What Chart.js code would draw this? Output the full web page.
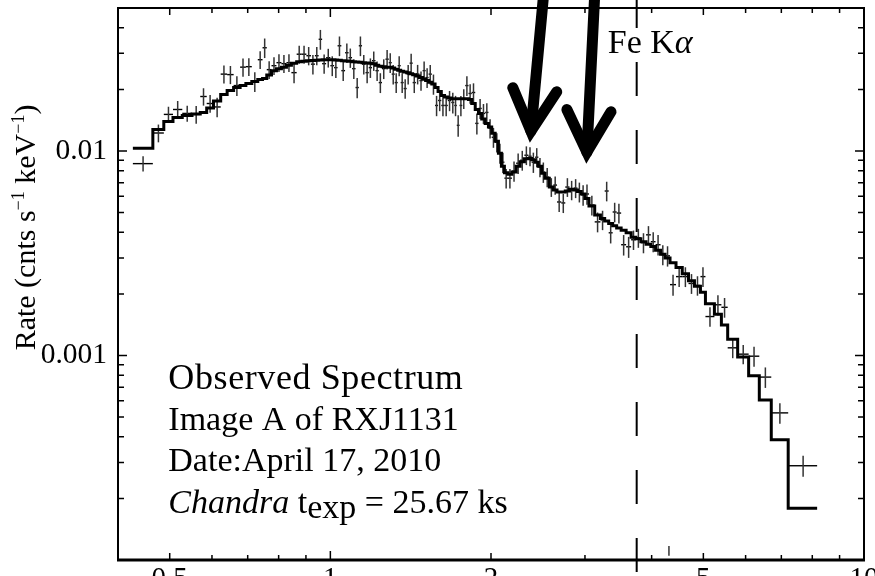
<!DOCTYPE html>
<html>
<head>
<meta charset="utf-8">
<script src="https://cdn.jsdelivr.net/npm/chart.js@4.4.1/dist/chart.umd.min.js"></script>
<style>
  html, body { margin: 0; padding: 0; background: #fff; overflow: hidden; }
  #frame { position: relative; width: 875px; height: 576px; overflow: hidden; background: #fff; }
  #spectrum { position: absolute; left: 0; top: -30px; }
</style>
</head>
<body>
<div id="frame"><canvas id="spectrum" width="900" height="650"></canvas></div>
<script>
// binned spectrum: bin centre (keV), half width (keV), rate, 1-sigma error, folded model
const energy = [
  0.4457, 0.4762, 0.4973, 0.5175, 0.5392, 0.5605, 0.5785, 0.5952, 0.6135, 0.6318,
  0.6497, 0.6681, 0.6860, 0.7035, 0.7218, 0.7387, 0.7532, 0.7679, 0.7841, 0.8011,
  0.8185, 0.8364, 0.8550, 0.8742, 0.8927, 0.9107, 0.9275, 0.9431, 0.9579, 0.9735,
  0.9910, 1.0082, 1.0240, 1.0401, 1.0570, 1.0737, 1.0899, 1.1065, 1.1227, 1.1385,
  1.1551, 1.1720, 1.1885, 1.2059, 1.2236, 1.2408, 1.2590, 1.2775, 1.2948, 1.3116,
  1.3286, 1.3458, 1.3633, 1.3810, 1.3990, 1.4171, 1.4363, 1.4573, 1.4787, 1.4987,
  1.5181, 1.5387, 1.5603, 1.5814, 1.6028, 1.6254, 1.6483, 1.6725, 1.6961, 1.7163,
  1.7358, 1.7564, 1.7783, 1.8024, 1.8278, 1.8545, 1.8817, 1.9081, 1.9360, 1.9643,
  1.9920, 2.0212, 2.0508, 2.0785, 2.1055, 2.1352, 2.1700, 2.2090, 2.2486, 2.2889,
  2.3298, 2.3665, 2.4011, 2.4363, 2.4706, 2.5067, 2.5489, 2.5946, 2.6382, 2.6840,
  2.7321, 2.7810, 2.8323, 2.8815, 2.9285, 2.9761, 3.0262, 3.0905, 3.1678, 3.2366,
  3.2946, 3.3519, 3.4101, 3.4731, 3.5449, 3.6220, 3.6988, 3.7773, 3.8615, 3.9455,
  4.0270, 4.1125, 4.1974, 4.2841, 4.3869, 4.5042, 4.6270, 4.7506, 4.8748, 4.9915,
  5.1447, 5.3245, 5.4790, 5.6755, 5.9384, 6.2221, 6.5338, 6.9563, 7.6896
];
const energyHalfWidth = [
  0.0192, 0.0113, 0.0099, 0.0104, 0.0114, 0.0100, 0.0081, 0.0087, 0.0096, 0.0088,
  0.0091, 0.0094, 0.0085, 0.0090, 0.0093, 0.0076, 0.0069, 0.0079, 0.0084, 0.0086,
  0.0089, 0.0090, 0.0097, 0.0095, 0.0091, 0.0089, 0.0080, 0.0076, 0.0072, 0.0084,
  0.0091, 0.0082, 0.0077, 0.0084, 0.0085, 0.0080, 0.0082, 0.0083, 0.0079, 0.0080,
  0.0087, 0.0082, 0.0083, 0.0091, 0.0086, 0.0087, 0.0095, 0.0090, 0.0083, 0.0085,
  0.0086, 0.0087, 0.0088, 0.0089, 0.0090, 0.0092, 0.0100, 0.0110, 0.0103, 0.0097,
  0.0098, 0.0107, 0.0109, 0.0102, 0.0112, 0.0114, 0.0115, 0.0127, 0.0110, 0.0093,
  0.0103, 0.0104, 0.0115, 0.0126, 0.0128, 0.0140, 0.0132, 0.0133, 0.0146, 0.0138,
  0.0140, 0.0152, 0.0144, 0.0134, 0.0136, 0.0161, 0.0187, 0.0203, 0.0194, 0.0209,
  0.0201, 0.0166, 0.0181, 0.0171, 0.0173, 0.0189, 0.0233, 0.0224, 0.0213, 0.0246,
  0.0235, 0.0254, 0.0259, 0.0233, 0.0237, 0.0240, 0.0261, 0.0382, 0.0392, 0.0296,
  0.0284, 0.0289, 0.0294, 0.0337, 0.0381, 0.0390, 0.0378, 0.0407, 0.0436, 0.0404,
  0.0412, 0.0443, 0.0407, 0.0461, 0.0567, 0.0606, 0.0622, 0.0613, 0.0630, 0.0537,
  0.0996, 0.0803, 0.0743, 0.1222, 0.1407, 0.1431, 0.1686, 0.2539, 0.4794
];
const rate = [
  0.00867, 0.01224, 0.01509, 0.01595, 0.01526, 0.01509, 0.01846, 0.01706, 0.01641, 0.02375,
  0.02362, 0.02088, 0.02569, 0.02583, 0.02183, 0.02794, 0.03196, 0.02498, 0.02612, 0.02702,
  0.02672, 0.02702, 0.02415, 0.02972, 0.02972, 0.02922, 0.02657, 0.02922, 0.03516, 0.02672,
  0.02858, 0.02612, 0.02555, 0.03268, 0.02470, 0.03022, 0.02858, 0.02526, 0.02042, 0.03268,
  0.02657, 0.02415, 0.02555, 0.02763, 0.02470, 0.02159, 0.02526, 0.02810, 0.02702, 0.02375,
  0.02159, 0.02612, 0.02159, 0.02019, 0.02375, 0.02687, 0.02159, 0.02375, 0.02208, 0.02470,
  0.02284, 0.02375, 0.02123, 0.01669, 0.01765, 0.01669, 0.01669, 0.01765, 0.01726, 0.01669,
  0.01334, 0.01669, 0.01805, 0.02088, 0.01910, 0.01931, 0.01364, 0.01614, 0.01526, 0.01543,
  0.01290, 0.01166, 0.01102, 0.00975, 0.00881, 0.00736, 0.00736, 0.00797, 0.00871, 0.00901,
  0.00953, 0.00942, 0.00881, 0.00932, 0.00833, 0.00788, 0.00745, 0.00666, 0.00681, 0.00563,
  0.00557, 0.00666, 0.00644, 0.00658, 0.00630, 0.00609, 0.00616, 0.00544, 0.00450, 0.00460,
  0.00637, 0.00398, 0.00503, 0.00497, 0.00348, 0.00340, 0.00368, 0.00376, 0.00356, 0.00389,
  0.00360, 0.00348, 0.00311, 0.00307, 0.00222, 0.00243, 0.00243, 0.00225, 0.00220, 0.00243,
  0.00155, 0.00177, 0.00172, 0.00109, 0.001015, 0.000992, 0.000784, 0.000524, 0.000289
];
const rateErr = [
  0.00074, 0.00122, 0.00136, 0.0016, 0.00137, 0.0015, 0.0018, 0.0017, 0.0018, 0.0024,
  0.0024, 0.0023, 0.0026, 0.0026, 0.0024, 0.0028, 0.0035, 0.0025, 0.0026, 0.0027,
  0.0027, 0.0027, 0.0027, 0.0030, 0.0030, 0.0030, 0.0029, 0.0030, 0.0039, 0.0029,
  0.0030, 0.0029, 0.0028, 0.0036, 0.0027, 0.0033, 0.0031, 0.0028, 0.0023, 0.0036,
  0.0029, 0.0027, 0.0028, 0.0030, 0.0027, 0.0024, 0.0028, 0.0031, 0.0030, 0.0026,
  0.0024, 0.0029, 0.0024, 0.0022, 0.0026, 0.0030, 0.0024, 0.0026, 0.0024, 0.0027,
  0.0025, 0.0026, 0.0024, 0.0019, 0.0020, 0.0019, 0.0019, 0.0020, 0.0020, 0.0019,
  0.0016, 0.0019, 0.0020, 0.0023, 0.0021, 0.0021, 0.0016, 0.0018, 0.0017, 0.0017,
  0.0014, 0.0013, 0.0012, 0.0011, 0.0010, 0.0008, 0.0008, 0.0009, 0.0010, 0.0010,
  0.0010, 0.0010, 0.0010, 0.0010, 0.0009, 0.0009, 0.0008, 0.0007, 0.0007, 0.0006,
  0.0006, 0.0007, 0.0007, 0.0007, 0.0007, 0.0007, 0.0007, 0.0006, 0.0005, 0.0005,
  0.0007, 0.00045, 0.00055, 0.00055, 0.0004, 0.0004, 0.0004, 0.0004, 0.0004, 0.0004,
  0.0004, 0.0004, 0.00035, 0.00035, 0.00026, 0.00027, 0.00027, 0.00025, 0.00024, 0.00027,
  0.00017, 0.0002, 0.00019, 0.00012, 0.00011, 0.00011, 0.00009, 0.00006, 0.000034
];
const modelRate = [
  0.01031, 0.01275, 0.01395, 0.01459, 0.01492, 0.01517, 0.01543, 0.01623, 0.01755, 0.01888,
  0.01975, 0.02042, 0.02088, 0.02135, 0.02183, 0.02233, 0.02258, 0.02349, 0.02470, 0.02526,
  0.02563, 0.02627, 0.02681, 0.02733, 0.02748, 0.02763, 0.02770, 0.02779, 0.02785, 0.02794,
  0.02794, 0.02794, 0.02785, 0.02773, 0.02763, 0.02754, 0.02742, 0.02733, 0.02724, 0.02712,
  0.02702, 0.02693, 0.02681, 0.02672, 0.02627, 0.02598, 0.02583, 0.02569, 0.02563, 0.02541,
  0.02512, 0.02484, 0.02456, 0.02434, 0.02410, 0.02383, 0.02357, 0.02325, 0.02284, 0.02251,
  0.02208, 0.02167, 0.02123, 0.02042, 0.01953, 0.01867, 0.01835, 0.01815, 0.01799, 0.01799,
  0.01799, 0.01799, 0.01799, 0.01799, 0.01785, 0.01706, 0.01595, 0.01526, 0.01434, 0.01364,
  0.01309, 0.01219, 0.01115, 0.00975, 0.00842, 0.00783, 0.00770, 0.00788, 0.00842, 0.00886,
  0.00916, 0.00918, 0.00906, 0.00881, 0.00842, 0.00779, 0.00736, 0.00666, 0.00644, 0.00630,
  0.00630, 0.00637, 0.00649, 0.00644, 0.00633, 0.00616, 0.00585, 0.00538, 0.00486, 0.00468,
  0.00455, 0.00442, 0.00431, 0.00420, 0.00409, 0.00398, 0.00378, 0.00372, 0.00360, 0.00350,
  0.00341, 0.00327, 0.00313, 0.00300, 0.00284, 0.00269, 0.00251, 0.00232, 0.00218, 0.00204,
  0.00179, 0.00159, 0.001408, 0.00120, 0.000983, 0.000795, 0.000606, 0.000387, 0.000179
];

// a single faint bin near 4.3 keV whose bar sits just above the floor
const lowEnergy = [4.31];
const lowRate = [1.11e-4];
const lowErr = [0.06e-4];

const xLabelTicks = [0.5, 1, 2, 5, 10];
const xMinorTicks = [0.6, 0.7, 0.8, 0.9, 3, 4, 6, 7, 8, 9];
const yLabelTicks = [0.001, 0.01];
const yMinorTicks = [2e-4, 3e-4, 4e-4, 5e-4, 6e-4, 7e-4, 8e-4, 9e-4,
  0.002, 0.003, 0.004, 0.005, 0.006, 0.007, 0.008, 0.009, 0.02, 0.03, 0.04];

const feKaEnergy = 3.75;
// arrows: [tip keV, tip rate, tail keV, tail rate]
const arrows = [
  [2.376, 0.01251, 2.549, 0.09],
  [3.025, 0.00987, 3.155, 0.09]
];

const serif = '"Liberation Serif", "Times New Roman", serif';

const modelSteps = energy.map((e, i) => ({ x: e - energyHalfWidth[i], y: modelRate[i] }));
const lastBin = energy.length - 1;
modelSteps.push({ x: energy[lastBin] + energyHalfWidth[lastBin], y: modelRate[lastBin] });

const observed = energy.map((e, i) => ({ x: e, y: rate[i], dx: energyHalfWidth[i], dy: rateErr[i] }));
const lowBins = lowEnergy.map((e, i) => ({ x: e, y: lowRate[i], dx: 0, dy: lowErr[i] }));

function drawRuns(ctx, runs, x, y) {
    runs.forEach(r => {
        ctx.font = r.font;
        ctx.letterSpacing = r.spacing || '0px';
        ctx.fillText(r.text, x, y + (r.dy || 0));
        x += ctx.measureText(r.text).width;
    });
    ctx.letterSpacing = '0px';
}

function runsWidth(ctx, runs) {
    let w = 0;
    runs.forEach(r => { ctx.font = r.font; w += ctx.measureText(r.text).width; });
    return w;
}

const spectrumDecor = {
    id: 'spectrumDecor',
    beforeDatasetsDraw(chart) {
        const { ctx, chartArea: a, scales: { x, y } } = chart;
        ctx.save();
        ctx.beginPath();
        ctx.rect(a.left, a.top, a.right - a.left, a.bottom - a.top);
        ctx.clip();
        chart.data.datasets.forEach(ds => {
            if (!ds.errorBars) return;
            ds.data.forEach(p => {
                const px = x.getPixelForValue(p.x);
                const py = y.getPixelForValue(p.y);
                if (p.dx > 0) {
                    ctx.strokeStyle = '#000';
                    ctx.lineWidth = 1.4;
                    ctx.beginPath();
                    ctx.moveTo(x.getPixelForValue(p.x - p.dx), py);
                    ctx.lineTo(x.getPixelForValue(p.x + p.dx), py);
                    ctx.stroke();
                }
                ctx.strokeStyle = '#333';
                ctx.lineWidth = 1.5;
                ctx.beginPath();
                ctx.moveTo(px, y.getPixelForValue(p.y + p.dy));
                ctx.lineTo(px, y.getPixelForValue(p.y - p.dy));
                ctx.stroke();
            });
        });
        ctx.restore();
    },
    afterDraw(chart) {
        const { ctx, chartArea: a, scales: { x, y } } = chart;
        ctx.save();
        ctx.strokeStyle = '#000';
        ctx.fillStyle = '#000';

        // Fe K-alpha marker, runs a little past both axes
        const fx = x.getPixelForValue(feKaEnergy);
        ctx.lineWidth = 2;
        ctx.setLineDash([34, 34]);
        ctx.beginPath();
        ctx.moveTo(fx, a.top - 14);
        ctx.lineTo(fx, a.bottom + 13);
        ctx.stroke();
        ctx.setLineDash([]);

        // frame
        ctx.lineWidth = 2;
        ctx.beginPath();
        ctx.moveTo(a.left, a.bottom);
        ctx.lineTo(a.left, a.top);
        ctx.lineTo(a.right, a.top);
        ctx.lineTo(a.right, a.bottom);
        ctx.stroke();
        ctx.lineWidth = 3;
        ctx.beginPath();
        ctx.moveTo(a.left - 1, a.bottom);
        ctx.lineTo(a.right + 1, a.bottom);
        ctx.stroke();

        // inward ticks on all four sides
        ctx.lineWidth = 1.5;
        const xTick = (v, len) => {
            const px = x.getPixelForValue(v);
            ctx.beginPath();
            ctx.moveTo(px, a.bottom); ctx.lineTo(px, a.bottom - len);
            ctx.moveTo(px, a.top); ctx.lineTo(px, a.top + len);
            ctx.stroke();
        };
        const yTick = (v, len) => {
            const py = y.getPixelForValue(v);
            ctx.beginPath();
            ctx.moveTo(a.left, py); ctx.lineTo(a.left + len, py);
            ctx.moveTo(a.right, py); ctx.lineTo(a.right - len, py);
            ctx.stroke();
        };
        xMinorTicks.forEach(v => xTick(v, 5));
        xLabelTicks.forEach(v => xTick(v, v === 1 ? 9 : 7));
        yMinorTicks.forEach(v => yTick(v, 6));
        yLabelTicks.forEach(v => yTick(v, 9));

        // arrows pointing at the two lines
        ctx.lineWidth = 11;
        ctx.lineCap = 'round';
        ctx.lineJoin = 'miter';
        arrows.forEach(([te, tr, se, sr]) => {
            const tx = x.getPixelForValue(te), ty = y.getPixelForValue(tr);
            const sx = x.getPixelForValue(se), sy = y.getPixelForValue(sr);
            const ang = Math.atan2(sy - ty, sx - tx);
            const wing = 47, spread = 28 * Math.PI / 180;
            ctx.beginPath();
            ctx.moveTo(sx, sy);
            ctx.lineTo(tx, ty);
            ctx.stroke();
            ctx.beginPath();
            ctx.moveTo(tx + wing * Math.cos(ang - spread), ty + wing * Math.sin(ang - spread));
            ctx.lineTo(tx, ty);
            ctx.lineTo(tx + wing * Math.cos(ang + spread), ty + wing * Math.sin(ang + spread));
            ctx.stroke();
        });

        // labels
        const body = '34px ' + serif;
        const ital = 'italic 34px ' + serif;
        ctx.textAlign = 'left';
        ctx.textBaseline = 'alphabetic';
        drawRuns(ctx, [{ text: 'Fe K', font: body }, { text: 'α', font: ital }],
            x.getPixelForValue(3.31), y.getPixelForValue(0.0301));

        const lines = [
            [{ text: 'Observed Spectrum', font: '36px ' + serif, spacing: '0.6px' }],
            [{ text: 'Image A of RXJ1131', font: body }],
            [{ text: 'Date:April 17, 2010', font: body }],
            [{ text: 'Chandra', font: ital }, { text: ' t', font: body },
             { text: 'exp', font: '34px ' + serif, dy: 5 }, { text: ' = 25.67 ks', font: body }]
        ];
        const tx0 = x.getPixelForValue(0.497);
        const ty0 = y.getPixelForValue(6.85e-4);
        lines.forEach((runs, i) => drawRuns(ctx, runs, tx0, ty0 + i * 41.2));

        // y axis title with superscripts
        const tfont = '30px ' + serif, sfont = '18px ' + serif;
        const title = [
            { text: 'Rate (cnts s', font: tfont },
            { text: '−1', font: sfont, dy: -11 },
            { text: ' keV', font: tfont },
            { text: '−1', font: sfont, dy: -11 },
            { text: ')', font: tfont }
        ];
        const tw = runsWidth(ctx, title);
        ctx.translate(35, a.top + 219.5);
        ctx.rotate(-Math.PI / 2);
        drawRuns(ctx, title, -tw / 2, 0);
        ctx.restore();
    }
};

new Chart(document.getElementById('spectrum'), {
    type: 'scatter',
    data: {
        datasets: [
            {
                label: 'model',
                data: modelSteps,
                showLine: true,
                stepped: 'before',
                borderColor: '#000',
                borderWidth: 3,
                pointRadius: 0,
                fill: false
            },
            {
                label: 'data',
                data: observed,
                errorBars: true,
                pointRadius: 0,
                showLine: false
            },
            {
                label: 'faint',
                data: lowBins,
                errorBars: true,
                pointRadius: 0,
                showLine: false
            }
        ]
    },
    options: {
        responsive: false,
        animation: false,
        events: [],
        layout: { padding: { left: 0, top: 38, right: 36, bottom: 20 } },
        plugins: { legend: { display: false }, tooltip: { enabled: false } },
        scales: {
            x: {
                type: 'logarithmic',
                min: 0.4,
                max: 10,
                grid: { display: false, drawTicks: false },
                border: { display: false },
                afterBuildTicks: s => { s.ticks = xLabelTicks.map(v => ({ value: v })); },
                afterFit: s => { s.height = 40; },
                ticks: {
                    autoSkip: false,
                    maxRotation: 0,
                    minRotation: 0,
                    padding: 2,
                    color: '#000',
                    font: { family: serif, size: 29 },
                    callback: v => String(v)
                }
            },
            y: {
                type: 'logarithmic',
                min: 1e-4,
                max: 0.05,
                grid: { display: false, drawTicks: false },
                border: { display: false },
                afterBuildTicks: s => { s.ticks = yLabelTicks.map(v => ({ value: v })); },
                afterFit: s => { s.width = 118; },
                ticks: {
                    autoSkip: false,
                    padding: 11,
                    color: '#000',
                    font: { family: serif, size: 29.5 },
                    callback: v => String(v)
                }
            }
        }
    },
    plugins: [spectrumDecor]
});
</script>
</body>
</html>
